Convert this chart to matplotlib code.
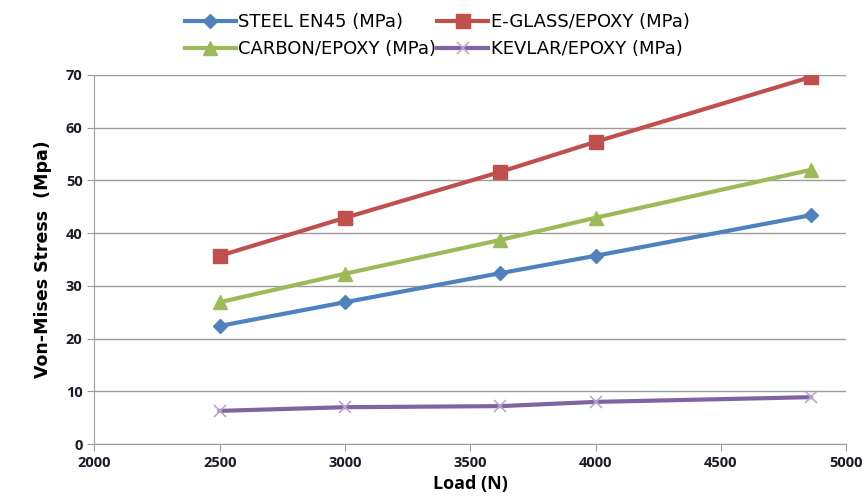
import numpy as np
import matplotlib
matplotlib.use('Agg')
import matplotlib.pyplot as plt

load = [2500, 3000, 3620, 4000, 4860]
steel = [22.4, 26.9, 32.4, 35.7, 43.4]
eglass = [35.7, 42.9, 51.6, 57.3, 69.6]
carbon = [26.9, 32.3, 38.7, 42.9, 52.0]
kevlar = [6.3, 7.0, 7.2, 8.0, 8.9]

plt.rcParams['font.family'] = ['Open Sans', 'DejaVu Sans']

fig = plt.figure(figsize=(8.66, 4.99), dpi=100)
ax = fig.add_axes([0.109, 0.110, 0.868, 0.740])

l1, = ax.plot(load, steel, color='#4F81BD', lw=3, marker='D', ms=7, label='STEEL EN45 (MPa)')
l2, = ax.plot(load, eglass, color='#C0504D', lw=3, marker='s', ms=10, label='E-GLASS/EPOXY (MPa)')
l3, = ax.plot(load, carbon, color='#9BBB59', lw=3, marker='^', ms=10, label='CARBON/EPOXY (MPa)')
l4, = ax.plot(load, kevlar, color='#8064A2', lw=3, marker='x', ms=9, mew=1.2, mec='#B8A8D0', label='KEVLAR/EPOXY (MPa)')

ax.set_xlim(2000, 5000)
ax.set_ylim(0, 70)
ax.set_xticks(np.arange(2000, 5001, 500))
ax.set_yticks(np.arange(0, 71, 10))
ax.yaxis.grid(True, color='#9C9C9C', lw=1)
ax.set_axisbelow(True)
for s in ['top', 'right']:
    ax.spines[s].set_visible(False)
for s in ['left', 'bottom']:
    ax.spines[s].set_color('#9C9C9C')
ax.tick_params(colors='#9C9C9C', labelcolor='#1a1a2a', labelsize=10.5, length=5)
for t in ax.get_xticklabels() + ax.get_yticklabels():
    t.set_fontweight('bold')

ax.set_xlabel('Load (N)', fontsize=13, fontweight='bold', labelpad=4)
ax.set_ylabel('Von-Mises Stress  (Mpa)', fontsize=12.5, fontweight='bold',
              family='DejaVu Sans', labelpad=10)

fig.legend([l1, l3, l2, l4], [l.get_label() for l in [l1, l3, l2, l4]],
           loc='upper center', bbox_to_anchor=(0.505, 0.995), ncol=2, frameon=False,
           prop={'family': 'DejaVu Sans', 'size': 13},
           handlelength=2.8, columnspacing=0.05, handletextpad=0.15,
           labelspacing=0.5, borderaxespad=0.2)

fig.savefig('out.png', dpi=100)
